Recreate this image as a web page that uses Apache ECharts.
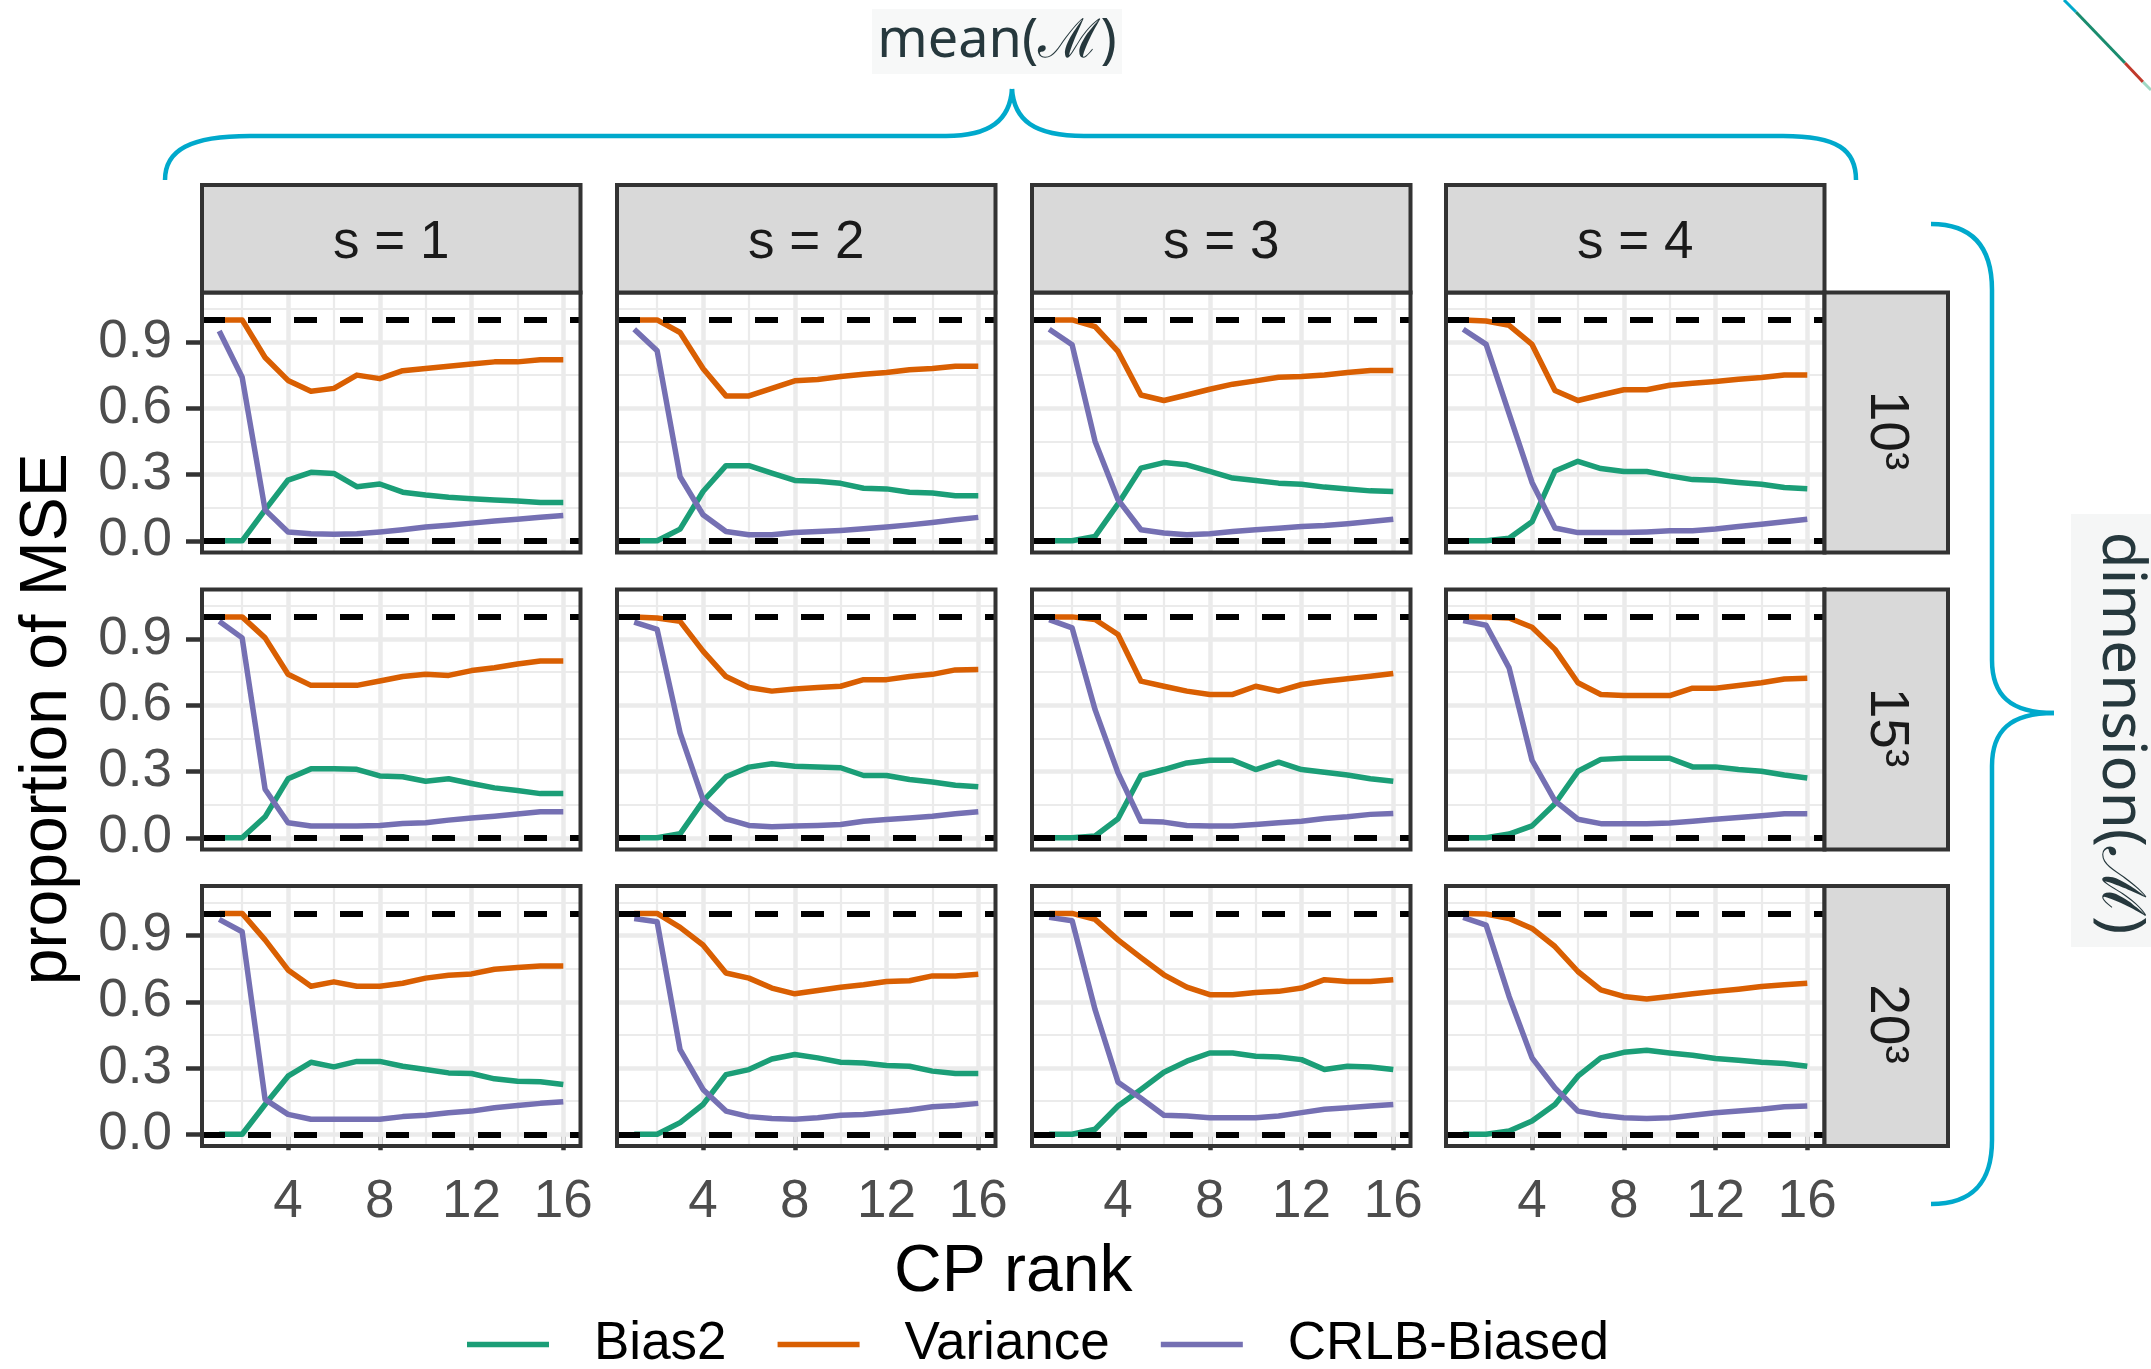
<!DOCTYPE html>
<html><head><meta charset="utf-8">
<script src="https://cdn.jsdelivr.net/npm/echarts@6/dist/echarts.min.js"></script>
<style>html,body{margin:0;padding:0;background:#fff}#c{width:2151px;height:1369px}</style>
</head><body><div id="c"></div>
<script>
// ---------- data ----------
const ranks = [1,2,3,4,5,6,7,8,9,10,11,12,13,14,15,16];
const colLabels = ['s = 1','s = 2','s = 3','s = 4'];
const rowLabels = ['10\u00B3','15\u00B3','20\u00B3'];
const xTicks = [4,8,12,16];
const xMinor = [2,6,10,14];
const yTicks = [0,0.3,0.6,0.9];
const yMinor = [0.15,0.45,0.75,1.05];
const refLines = [0,1];
const seriesNames = ['Bias2','Variance','CRLB-Biased'];

// s = 1
const bias_s1_d10 = [0,0,0.14,0.275,0.31,0.305,0.245,0.257,0.22,0.207,0.197,0.19,0.185,0.18,0.173,0.173];
const var_s1_d10  = [1,1,0.83,0.726,0.677,0.69,0.75,0.734,0.77,0.78,0.79,0.80,0.81,0.81,0.82,0.82];
const crlb_s1_d10 = [0.95,0.74,0.14,0.04,0.032,0.03,0.032,0.04,0.05,0.062,0.07,0.08,0.09,0.098,0.107,0.114];
const bias_s1_d15 = [0,0,0.095,0.267,0.312,0.312,0.31,0.28,0.276,0.256,0.267,0.246,0.226,0.214,0.2,0.2];
const var_s1_d15  = [1,1,0.905,0.74,0.69,0.69,0.69,0.71,0.73,0.74,0.735,0.757,0.77,0.787,0.80,0.80];
const crlb_s1_d15 = [0.98,0.905,0.22,0.068,0.053,0.053,0.053,0.056,0.065,0.068,0.08,0.09,0.098,0.108,0.118,0.118];
const bias_s1_d20 = [0,0,0.135,0.263,0.326,0.305,0.33,0.33,0.308,0.293,0.278,0.275,0.251,0.24,0.238,0.225];
const var_s1_d20  = [1,1,0.88,0.744,0.67,0.69,0.67,0.67,0.684,0.707,0.72,0.726,0.747,0.755,0.762,0.762];
const crlb_s1_d20 = [0.973,0.917,0.158,0.09,0.068,0.068,0.068,0.068,0.08,0.086,0.098,0.105,0.12,0.13,0.14,0.147];
// s = 2
const bias_s2_d10 = [0,0,0.053,0.223,0.34,0.34,0.306,0.273,0.27,0.26,0.238,0.235,0.22,0.216,0.204,0.204];
const var_s2_d10  = [1,1,0.943,0.78,0.656,0.656,0.69,0.724,0.73,0.744,0.754,0.762,0.774,0.78,0.79,0.79];
const crlb_s2_d10 = [0.958,0.86,0.29,0.118,0.042,0.027,0.027,0.038,0.042,0.047,0.054,0.062,0.072,0.083,0.095,0.106];
const bias_s2_d15 = [0,0,0.018,0.166,0.276,0.32,0.335,0.324,0.32,0.317,0.282,0.282,0.264,0.253,0.238,0.231];
const var_s2_d15  = [1,0.995,0.98,0.845,0.73,0.68,0.664,0.674,0.68,0.686,0.716,0.716,0.73,0.74,0.76,0.762];
const crlb_s2_d15 = [0.976,0.943,0.475,0.173,0.086,0.056,0.05,0.053,0.056,0.06,0.075,0.083,0.09,0.098,0.109,0.118];
const bias_s2_d20 = [0,0,0.053,0.135,0.27,0.293,0.341,0.361,0.346,0.326,0.323,0.311,0.308,0.286,0.275,0.275];
const var_s2_d20  = [1,1,0.937,0.857,0.73,0.707,0.662,0.636,0.651,0.666,0.677,0.692,0.695,0.717,0.717,0.725];
const crlb_s2_d20 = [0.977,0.962,0.383,0.203,0.105,0.08,0.071,0.068,0.075,0.086,0.09,0.1,0.11,0.125,0.13,0.14];
// s = 3
const bias_s3_d10 = [0,0,0.02,0.167,0.329,0.354,0.344,0.314,0.284,0.273,0.261,0.256,0.243,0.234,0.226,0.223];
const var_s3_d10  = [1,1,0.97,0.857,0.66,0.635,0.66,0.686,0.709,0.724,0.74,0.744,0.751,0.762,0.771,0.771];
const crlb_s3_d10 = [0.958,0.887,0.45,0.186,0.05,0.035,0.027,0.032,0.042,0.05,0.057,0.065,0.069,0.077,0.087,0.098];
const bias_s3_d15 = [0,0,0.008,0.086,0.282,0.309,0.339,0.351,0.351,0.309,0.342,0.309,0.297,0.284,0.267,0.256];
const var_s3_d15  = [1,1,0.988,0.92,0.709,0.686,0.664,0.649,0.649,0.686,0.664,0.694,0.709,0.72,0.731,0.744];
const crlb_s3_d15 = [0.988,0.95,0.58,0.294,0.075,0.071,0.056,0.053,0.053,0.06,0.068,0.075,0.087,0.095,0.106,0.11];
const bias_s3_d20 = [0,0,0.023,0.128,0.203,0.281,0.331,0.368,0.368,0.353,0.35,0.338,0.293,0.308,0.305,0.293];
const var_s3_d20  = [1,1,0.973,0.88,0.8,0.722,0.666,0.632,0.632,0.642,0.647,0.662,0.7,0.692,0.692,0.7];
const crlb_s3_d20 = [0.982,0.967,0.564,0.236,0.163,0.086,0.083,0.075,0.075,0.075,0.083,0.098,0.113,0.12,0.128,0.135];
// s = 4
const bias_s4_d10 = [0,0,0.012,0.086,0.316,0.36,0.327,0.314,0.314,0.294,0.277,0.274,0.264,0.256,0.241,0.236];
const var_s4_d10  = [1,0.995,0.975,0.889,0.68,0.635,0.66,0.684,0.684,0.704,0.713,0.721,0.731,0.739,0.751,0.751];
const crlb_s4_d10 = [0.958,0.889,0.576,0.264,0.058,0.037,0.037,0.037,0.04,0.045,0.045,0.053,0.065,0.075,0.086,0.098];
const bias_s4_d15 = [0,0,0.017,0.054,0.154,0.301,0.355,0.36,0.36,0.36,0.321,0.321,0.309,0.301,0.284,0.271];
const var_s4_d15  = [1,1,0.995,0.953,0.853,0.702,0.649,0.644,0.644,0.644,0.677,0.677,0.689,0.702,0.719,0.722];
const crlb_s4_d15 = [0.983,0.962,0.769,0.351,0.167,0.084,0.064,0.064,0.064,0.067,0.075,0.084,0.092,0.1,0.109,0.109];
const bias_s4_d20 = [0,0,0.015,0.06,0.135,0.263,0.346,0.371,0.38,0.368,0.358,0.343,0.335,0.326,0.32,0.308];
const var_s4_d20  = [1,0.997,0.977,0.932,0.85,0.737,0.654,0.624,0.612,0.624,0.636,0.647,0.657,0.669,0.677,0.684];
const crlb_s4_d20 = [0.982,0.947,0.624,0.346,0.21,0.105,0.086,0.075,0.071,0.075,0.086,0.098,0.105,0.113,0.125,0.128];

const panels = [
  [[bias_s1_d10,var_s1_d10,crlb_s1_d10],[bias_s2_d10,var_s2_d10,crlb_s2_d10],[bias_s3_d10,var_s3_d10,crlb_s3_d10],[bias_s4_d10,var_s4_d10,crlb_s4_d10]],
  [[bias_s1_d15,var_s1_d15,crlb_s1_d15],[bias_s2_d15,var_s2_d15,crlb_s2_d15],[bias_s3_d15,var_s3_d15,crlb_s3_d15],[bias_s4_d15,var_s4_d15,crlb_s4_d15]],
  [[bias_s1_d20,var_s1_d20,crlb_s1_d20],[bias_s2_d20,var_s2_d20,crlb_s2_d20],[bias_s3_d20,var_s3_d20,crlb_s3_d20],[bias_s4_d20,var_s4_d20,crlb_s4_d20]]
];

// ---------- layout / style ----------
const colors = ['#1B9E77','#D95F02','#7570B3'];
const FONT = 'Liberation Sans, Arial, sans-serif';
const colLeft = [202, 617, 1032, 1446];
const rowTop = [292.5, 589.5, 886];
const PW = 378.5, PH = 260;
const stripTop = 185, stripRight = 1948;
const XMIN = 0.25, XMAX = 16.75, YMIN = -0.053, YMAX = 1.124;
const BORDER = '#333333';
const LW = 5.5;

const grids = [], xAxes = [], yAxes = [], series = [], graphics = [];
let gi = 0;
for (let r = 0; r < 3; r++) {
  for (let c = 0; c < 4; c++) {
    grids.push({left: colLeft[c], top: rowTop[r], width: PW, height: PH, show: true,
      backgroundColor: '#fff', borderWidth: 0, containLabel: false});
    const bottomRow = r === 2, leftCol = c === 0;
    xAxes.push({type: 'value', gridIndex: gi, min: XMIN, max: XMAX,
      axisLine: {show: false}, splitLine: {show: false},
      axisTick: {show: bottomRow, customValues: xTicks, length: 16, lineStyle: {color: BORDER, width: 4.5}},
      axisLabel: {show: bottomRow, customValues: xTicks, margin: 30, fontSize: 53, color: '#4d4d4d', fontFamily: FONT}
    });
    yAxes.push({type: 'value', gridIndex: gi, min: YMIN, max: YMAX,
      axisLine: {show: false}, splitLine: {show: false},
      axisTick: {show: leftCol, customValues: yTicks, length: 16, lineStyle: {color: BORDER, width: 4.5}},
      axisLabel: {show: leftCol, customValues: yTicks, margin: 30, fontSize: 53, color: '#4d4d4d', fontFamily: FONT,
        formatter: v => v.toFixed(1)}
    });
    // gridlines
    const gl = [];
    xMinor.forEach(v => gl.push({xAxis: v, lineStyle: {width: 2.2}}));
    yMinor.forEach(v => gl.push({yAxis: v, lineStyle: {width: 2.2}}));
    xTicks.forEach(v => gl.push({xAxis: v, lineStyle: {width: 4.5}}));
    yTicks.forEach(v => gl.push({yAxis: v, lineStyle: {width: 4.5}}));
    series.push({type: 'line', name: 'grid', xAxisIndex: gi, yAxisIndex: gi, data: [], z: 1, silent: true,
      markLine: {z: 1, silent: true, symbol: ['none','none'], label: {show: false}, animation: false,
        lineStyle: {color: '#ebebeb', type: 'solid'}, data: gl}});
    // data
    for (let k = 0; k < 3; k++) {
      const arr = panels[r][c][k];
      series.push({type: 'line', name: seriesNames[k], xAxisIndex: gi, yAxisIndex: gi,
        data: ranks.map((x, i) => [x, arr[i]]), symbol: 'none', showSymbol: false, z: 3 + k,
        lineStyle: {color: colors[k], width: LW, join: 'round'}, itemStyle: {color: colors[k]}, animation: false});
    }
    // reference dashed lines
    series.push({type: 'line', name: 'ref', xAxisIndex: gi, yAxisIndex: gi, data: [], z: 10, silent: true,
      markLine: {z: 10, silent: true, symbol: ['none','none'], label: {show: false}, animation: false,
        lineStyle: {color: '#000', width: 6, type: [23, 23]}, data: refLines.map(v => ({yAxis: v}))}});
    // panel border
    graphics.push({type: 'rect', z: 100, silent: true, shape: {x: colLeft[c], y: rowTop[r], width: PW, height: PH},
      style: {fill: 'none', stroke: BORDER, lineWidth: 4}});
    gi++;
  }
}
// top strips
for (let c = 0; c < 4; c++) {
  graphics.push({type: 'rect', z: 100, silent: true, shape: {x: colLeft[c], y: stripTop, width: PW, height: rowTop[0] - stripTop},
    style: {fill: '#d9d9d9', stroke: BORDER, lineWidth: 4}});
  graphics.push({type: 'text', z: 101, silent: true, x: colLeft[c] + PW / 2, y: (stripTop + rowTop[0]) / 2 + 5,
    style: {text: colLabels[c], fontSize: 53, fontFamily: FONT, fill: '#1a1a1a', align: 'center', verticalAlign: 'middle'}});
}
// right strips
const rsx = colLeft[3] + PW;
for (let r = 0; r < 3; r++) {
  graphics.push({type: 'rect', z: 100, silent: true, shape: {x: rsx, y: rowTop[r], width: stripRight - rsx, height: PH},
    style: {fill: '#d9d9d9', stroke: BORDER, lineWidth: 4}});
  graphics.push({type: 'text', z: 101, silent: true, x: (rsx + stripRight) / 2, y: rowTop[r] + PH / 2 + 8, rotation: -Math.PI / 2,
    style: {text: rowLabels[r], fontSize: 55, fontFamily: FONT, fill: '#1a1a1a', align: 'center', verticalAlign: 'middle'}});
}
// axis titles
graphics.push({type: 'text', z: 101, x: (colLeft[0] + colLeft[3] + PW) / 2, y: 1273,
  style: {text: 'CP rank', fontSize: 66, fontFamily: FONT, fill: '#000', align: 'center', verticalAlign: 'middle'}});
graphics.push({type: 'text', z: 101, x: 48, y: (rowTop[0] + rowTop[2] + PH) / 2, rotation: Math.PI / 2,
  style: {text: 'proportion of MSE', fontSize: 66, fontFamily: FONT, fill: '#000', align: 'center', verticalAlign: 'middle'}});
// braces and annotations
const CYAN = '#00A9CC';
const braceStyle = {fill: 'none', stroke: CYAN, lineWidth: 4.5};
function bz(x1,y1,c1x,c1y,c2x,c2y,x2,y2){
  graphics.push({type: 'bezierCurve', z: 50, silent: true,
    shape: {x1: x1, y1: y1, cpx1: c1x, cpy1: c1y, cpx2: c2x, cpy2: c2y, x2: x2, y2: y2}, style: braceStyle});
}
function ln(x1,y1,x2,y2){
  graphics.push({type: 'line', z: 50, silent: true, shape: {x1: x1, y1: y1, x2: x2, y2: y2}, style: braceStyle});
}
// top brace
bz(165,180, 165,150, 190,136, 250,136);
ln(250,136, 946,136);
bz(946,136, 990,136, 1010,120, 1012,89);
bz(1012,89, 1014,120, 1034,136, 1084,136);
ln(1084,136, 1783,136);
bz(1783,136, 1838,136, 1856,150, 1856,180);
// right brace
bz(1931,224, 1975,224, 1992,250, 1992,290);
ln(1992,290, 1992,660);
bz(1992,660, 1992,695, 2010,713, 2054,713);
bz(2054,713, 2010,713, 1992,731, 1992,766);
ln(1992,766, 1992,1140);
bz(1992,1140, 1992,1180, 1975,1204, 1931,1204);

graphics.push({type: 'rect', z: 40, silent: true, shape: {x: 872, y: 9, width: 250, height: 65}, style: {fill: '#f7f8f8'}});
graphics.push({type: 'text', z: 41, x: 997, y: 42,
  style: {text: 'mean(\u2133)', fontSize: 54, fontFamily: 'Noto Sans, DejaVu Sans, sans-serif', fill: '#26383d', align: 'center', verticalAlign: 'middle'}});
graphics.push({type: 'rect', z: 40, silent: true, shape: {x: 2071, y: 514, width: 80, height: 433}, style: {fill: '#f5f6f6'}});
graphics.push({type: 'text', z: 41, x: 2120, y: 733, rotation: -Math.PI / 2,
  style: {text: 'dimension(\u2133)', fontSize: 60, fontFamily: 'Noto Sans, DejaVu Sans, sans-serif', fill: '#26383d', align: 'center', verticalAlign: 'middle'}});
// corner artifact
graphics.push({type: 'line', z: 41, shape: {x1: 2064, y1: 0, x2: 2076, y2: 12}, style: {stroke: CYAN, lineWidth: 3}});
graphics.push({type: 'line', z: 41, shape: {x1: 2076, y1: 12, x2: 2125, y2: 63}, style: {stroke: '#1a8c6e', lineWidth: 3}});
graphics.push({type: 'line', z: 41, shape: {x1: 2125, y1: 63, x2: 2143, y2: 82}, style: {stroke: '#c0392b', lineWidth: 3}});
graphics.push({type: 'line', z: 41, shape: {x1: 2143, y1: 82, x2: 2151, y2: 90}, style: {stroke: '#9fd8c4', lineWidth: 3}});

const chart = echarts.init(document.getElementById('c'), null, {renderer: 'canvas'});
chart.setOption({
  animation: false,
  backgroundColor: '#fff',
  grid: grids, xAxis: xAxes, yAxis: yAxes, series: series,
  legend: {data: seriesNames, left: 462, top: 1313, icon: 'rect', itemWidth: 82, itemHeight: 5.5, itemGap: 51,
    textStyle: {fontSize: 53, fontFamily: FONT, color: '#000', padding: [0, 0, 0, 40]}},
  graphic: {elements: graphics}
});
</script></body></html>
